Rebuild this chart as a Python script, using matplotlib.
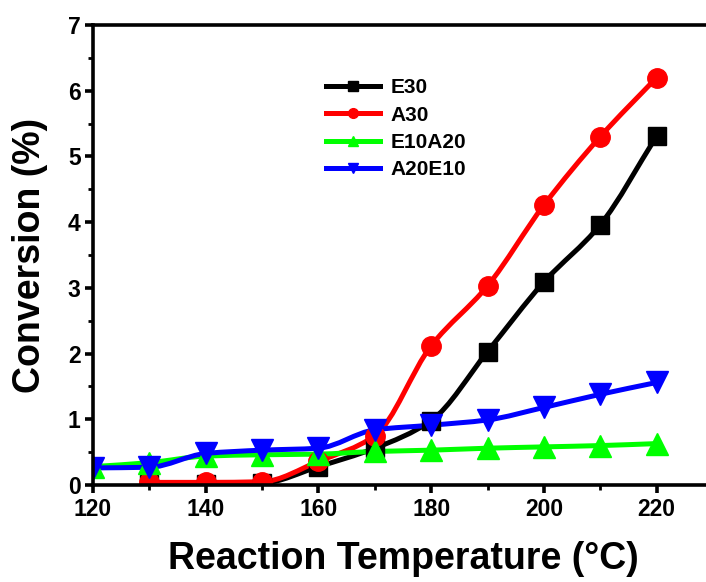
import numpy as np
import matplotlib
matplotlib.use("Agg")
import matplotlib.pyplot as plt
from matplotlib.path import Path
from matplotlib.patches import PathPatch
from matplotlib.lines import Line2D

plt.rcParams['font.family'] = ['Liberation Sans', 'DejaVu Sans']
plt.rcParams['font.weight'] = 'bold'

temp_full = [120, 130, 140, 150, 160, 170, 180, 190, 200, 210, 220]
temp_part = [130, 140, 150, 160, 170, 180, 190, 200, 210, 220]

e30 = [0.02, 0.02, 0.03, 0.28, 0.56, 0.98, 2.03, 3.09, 3.96, 5.31]
a30 = [0.04, 0.04, 0.05, 0.36, 0.75, 2.12, 3.03, 4.26, 5.30, 6.20]
e10a20 = [0.28, 0.34, 0.44, 0.46, 0.47, 0.51, 0.53, 0.56, 0.58, 0.60, 0.63]
a20e10 = [0.26, 0.27, 0.48, 0.53, 0.56, 0.84, 0.91, 0.99, 1.18, 1.38, 1.56]

series = [
    ("E30", temp_part, e30, "black", "s", 13),
    ("A30", temp_part, a30, "#ff0000", "o", 14),
    ("E10A20", temp_full, e10a20, "#00ff00", "^", 16),
    ("A20E10", temp_full, a20e10, "#0000ff", "v", 16),
]


def smooth_path(x, y):
    """Monotone cubic (PCHIP-style) Bezier path through the data points."""
    x = np.asarray(x, float)
    y = np.asarray(y, float)
    n = len(x)
    h = np.diff(x)
    d = np.diff(y) / h
    m = np.zeros(n)
    m[0], m[-1] = d[0], d[-1]
    for i in range(1, n - 1):
        if d[i - 1] * d[i] <= 0:
            m[i] = 0.0
        else:
            w1 = 2 * h[i] + h[i - 1]
            w2 = h[i] + 2 * h[i - 1]
            m[i] = (w1 + w2) / (w1 / d[i - 1] + w2 / d[i])
    verts = [(x[0], y[0])]
    codes = [Path.MOVETO]
    for i in range(n - 1):
        c1 = (x[i] + h[i] / 3, y[i] + m[i] * h[i] / 3)
        c2 = (x[i + 1] - h[i] / 3, y[i + 1] - m[i + 1] * h[i] / 3)
        verts += [c1, c2, (x[i + 1], y[i + 1])]
        codes += [Path.CURVE4] * 3
    return Path(verts, codes)


fig = plt.figure(figsize=(7.06, 5.82), dpi=100)
ax = fig.add_axes([93 / 706, 97 / 582, 620 / 706, 460 / 582])

for name, xs, ys, col, mk, ms in series:
    patch = PathPatch(smooth_path(xs, ys), facecolor='none', edgecolor=col,
                      lw=3.6, capstyle='round', joinstyle='round')
    ax.add_patch(patch)
    ax.plot(xs, ys, ls='none', marker=mk, color=col, ms=ms, mec=col)

ax.set_xlim(120, 230)
ax.set_ylim(0, 7)
ax.set_xticks([120, 140, 160, 180, 200, 220])
ax.set_xticks([130, 150, 170, 190, 210, 230], minor=True)
ax.set_yticks(range(0, 8))
ax.set_yticks(np.arange(0.5, 7, 1.0), minor=True)

for s in ax.spines.values():
    s.set_linewidth(2.6)
ax.tick_params(which='major', direction='out', length=6, width=2.6,
               labelsize=16.5, pad=3)
ax.tick_params(which='minor', direction='out', length=3.5, width=2.0)
for lab in ax.get_xticklabels() + ax.get_yticklabels():
    lab.set_fontweight('bold')

ax.set_xlabel('Reaction Temperature (°C)', fontsize=27, fontweight='bold',
              labelpad=15)
ax.set_ylabel('Conversion (%)', fontsize=27, fontweight='bold', labelpad=14)

handles = [Line2D([], [], color=col, lw=3.6, marker=mk, ms=7, mec=col)
           for name, xs, ys, col, mk, ms in series]
labels = [s[0] for s in series]
leg = ax.legend(handles, labels, loc='upper left',
                bbox_to_anchor=(0.345, 0.925), frameon=False,
                prop={'size': 15, 'weight': 'bold'},
                handlelength=2.6, handletextpad=0.5, labelspacing=0.4)

fig.savefig('out.png', dpi=100)
